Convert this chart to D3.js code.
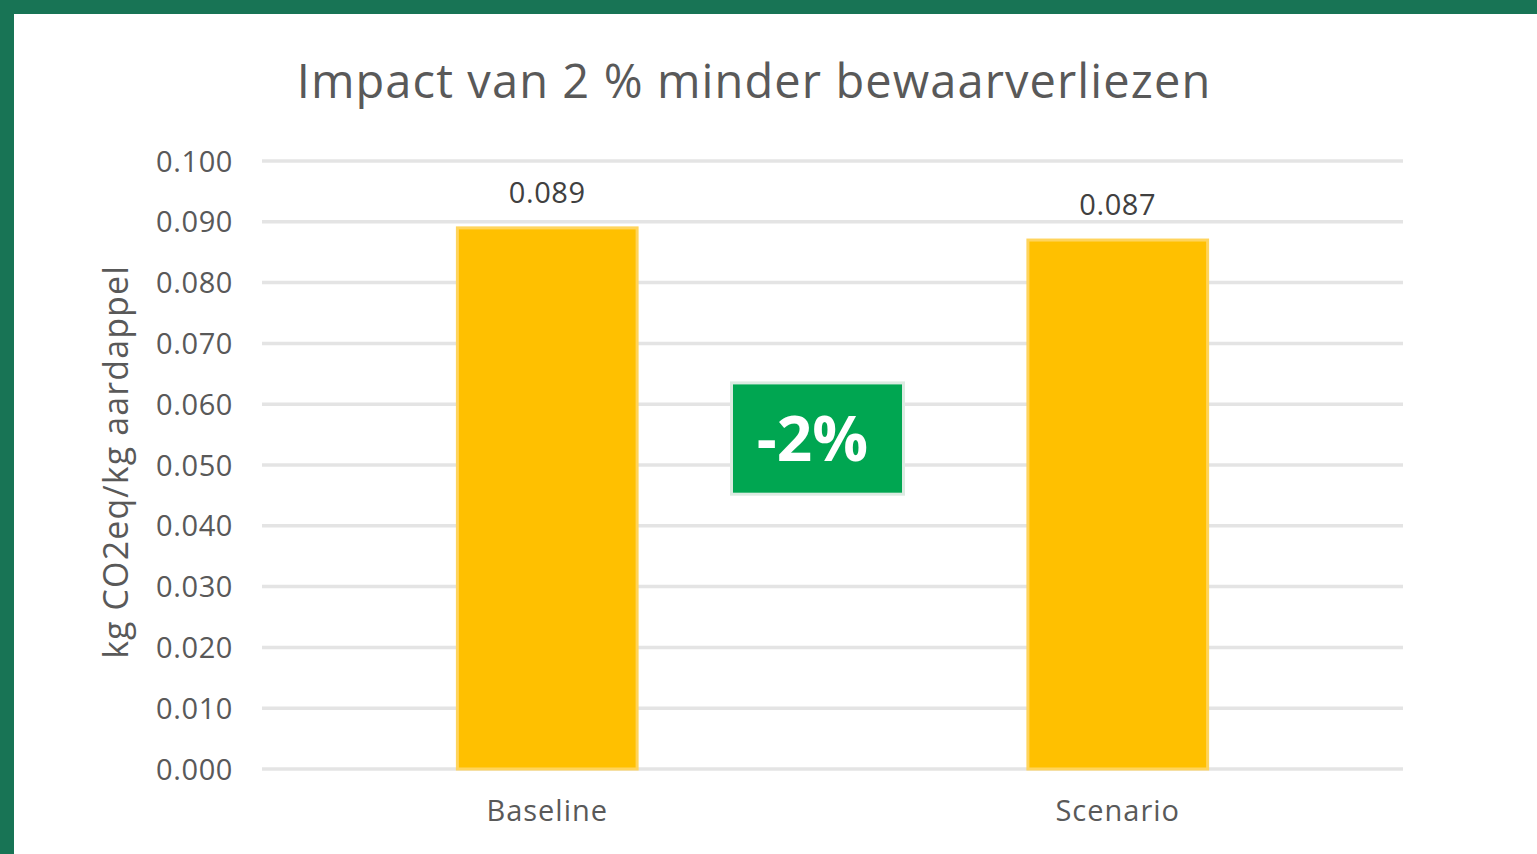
<!DOCTYPE html>
<html>
<head>
<meta charset="utf-8">
<script src="https://cdnjs.cloudflare.com/ajax/libs/d3/7.8.5/d3.min.js"></script>
<style>
  body { margin: 0; background: #ffffff; }
  svg { display: block; font-family: "Open Sans", "Noto Sans", sans-serif; }
</style>
</head>
<body>
<script>
// chart data
var categories = ["Baseline", "Scenario"]
var values = [0.089, 0.087]
var yTicks = [0, 0.01, 0.02, 0.03, 0.04, 0.05, 0.06, 0.07, 0.08, 0.09, 0.1]
var titleText = "Impact van 2 % minder bewaarverliezen"
var yLabelText = "kg CO2eq/kg aardappel"
var badgeText = "-2%"
var badgeRange = [0.0452, 0.0635] // value span of the green box

var screen = {width: 1537, height: 854}
var margins = {top: 161, bottom: 85, left: 262, right: 134}

var width = screen.width - margins.left - margins.right
var height = screen.height - margins.top - margins.bottom

var svg = d3.select("body")
    .append("svg")
    .attr("width", screen.width)
    .attr("height", screen.height)

// green frame top and left
svg.append("rect")
    .attr("x", 0).attr("y", 0)
    .attr("width", screen.width).attr("height", 14)
    .attr("fill", "#187455")
svg.append("rect")
    .attr("x", 0).attr("y", 0)
    .attr("width", 14).attr("height", screen.height)
    .attr("fill", "#187455")

var xScale = d3.scaleBand()
    .domain(categories)
    .range([0, width])
    .paddingInner(0.685)
    .paddingOuter(0.3425)

var yScale = d3.scaleLinear()
    .domain([0, 0.1])
    .range([height, 0])

var plot = svg.append("g")
    .attr("transform", "translate(" + margins.left + "," + margins.top + ")")

// gridlines
plot.selectAll("line.grid")
    .data(yTicks)
    .enter()
    .append("line")
    .attr("class", "grid")
    .attr("x1", 0)
    .attr("x2", width)
    .attr("y1", function(d) { return yScale(d) })
    .attr("y2", function(d) { return yScale(d) })
    .attr("stroke", "#e4e4e4")
    .attr("stroke-width", 3.5)

// y axis labels
var yAxis = d3.axisLeft(yScale)
    .tickValues(yTicks)
    .tickFormat(d3.format(".3f"))
    .tickSize(0)
    .tickPadding(29)

var yAxisG = plot.append("g").call(yAxis)
    .attr("font-family", null)
yAxisG.select(".domain").remove()
yAxisG.selectAll("text")
    .attr("fill", "#595959")
    .style("font-size", "29px")
    .style("letter-spacing", "0.6px")
    .attr("dy", "0.35em")

// x axis labels
var xAxis = d3.axisBottom(xScale).tickSize(0).tickPadding(31)
var xAxisG = plot.append("g")
    .attr("transform", "translate(0," + height + ")")
    .call(xAxis)
    .attr("font-family", null)
xAxisG.select(".domain").remove()
xAxisG.selectAll("text")
    .attr("fill", "#595959")
    .style("font-size", "29px")
    .style("letter-spacing", "1px")

// bars
plot.selectAll("rect.bar")
    .data(values)
    .enter()
    .append("rect")
    .attr("class", "bar")
    .attr("x", function(d, i) { return xScale(categories[i]) })
    .attr("y", function(d) { return yScale(d) })
    .attr("width", xScale.bandwidth())
    .attr("height", function(d) { return height - yScale(d) })
    .attr("fill", "#ffc000")
    .attr("stroke", "#ffd45c")
    .attr("stroke-width", 3)

// value labels
plot.selectAll("text.val")
    .data(values)
    .enter()
    .append("text")
    .attr("class", "val")
    .attr("x", function(d, i) { return xScale(categories[i]) + xScale.bandwidth() / 2 })
    .attr("y", function(d) { return yScale(d) - 25 })
    .attr("text-anchor", "middle")
    .attr("fill", "#404040")
    .style("font-size", "29px")
    .style("letter-spacing", "0.6px")
    .text(function(d) { return d3.format(".3f")(d) })

// green -2% box between the bars
var bx = (xScale(categories[0]) + xScale.bandwidth() + xScale(categories[1])) / 2
var badgeW = 172
plot.append("rect")
    .attr("x", bx - badgeW / 2 - 15)
    .attr("y", yScale(badgeRange[1]))
    .attr("width", badgeW)
    .attr("height", yScale(badgeRange[0]) - yScale(badgeRange[1]))
    .attr("fill", "#00a651")
    .attr("stroke", "#dcebe2")
    .attr("stroke-width", 3)
plot.append("text")
    .attr("x", bx - 20)
    .attr("y", (yScale(badgeRange[0]) + yScale(badgeRange[1])) / 2)
    .attr("dy", "0.36em")
    .attr("text-anchor", "middle")
    .attr("fill", "#ffffff")
    .style("font-size", "62px")
    .style("font-weight", "bold")
    .text(badgeText)

// title
svg.append("text")
    .attr("x", 754)
    .attr("y", 98)
    .attr("text-anchor", "middle")
    .attr("fill", "#595959")
    .style("font-size", "47px")
    .style("letter-spacing", "1.1px")
    .text(titleText)

// y axis title
svg.append("text")
    .attr("transform", "translate(128,462) rotate(-90)")
    .attr("text-anchor", "middle")
    .attr("fill", "#595959")
    .style("font-size", "34px")
    .style("letter-spacing", "1.1px")
    .text(yLabelText)
</script>
</body>
</html>
